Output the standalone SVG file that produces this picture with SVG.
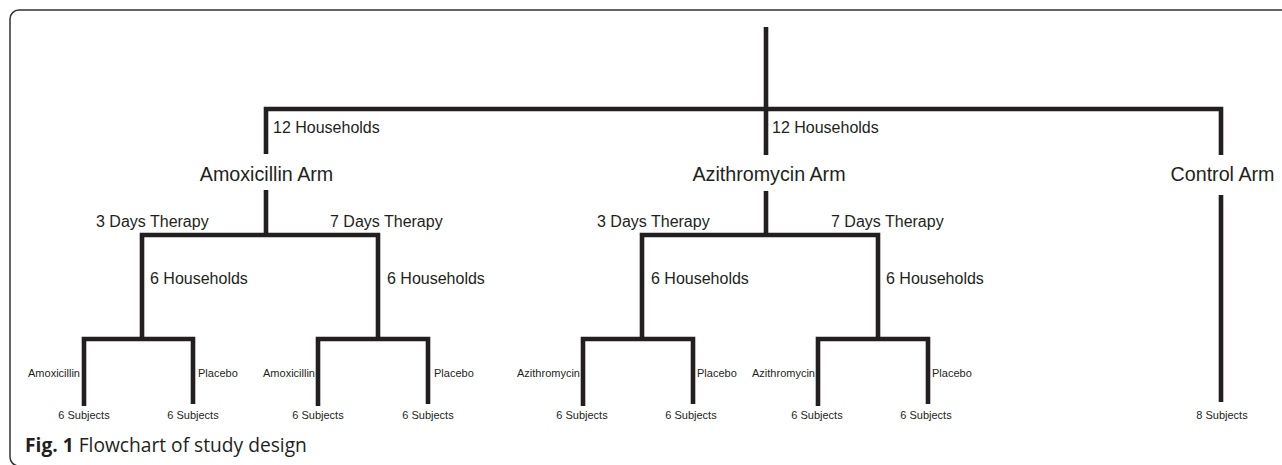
<svg xmlns="http://www.w3.org/2000/svg" width="1282" height="465" viewBox="0 0 1282 465">
<style>
.ln{fill:none;stroke:#231f20;stroke-width:4.6;stroke-linejoin:miter;stroke-linecap:butt}
.t{font-family:"Liberation Sans",Arial,sans-serif;fill:#231f20}
.arm{font-size:19.7px;text-anchor:middle}
.md{font-size:16px}
.sm{font-size:11px}
.c{text-anchor:middle}
.e{text-anchor:end}
.cap{font-family:"Open Sans","Noto Sans",sans-serif;font-size:19.2px;fill:#231f20}
</style>
<rect x="10" y="10" width="1300" height="456" rx="9" fill="#fff" stroke="#333" stroke-width="1.5"/>
<g id="connectors" class="ln">
<path d="M766,27 V155"/>
<path d="M266,154 V109 H1221 V155"/>
<path d="M266,190 V235"/>
<path d="M142,339 V235 H378 V339"/>
<path d="M766,191 V235"/>
<path d="M642,339 V235 H878 V339"/>
<path d="M1221,195 V402"/>
<path d="M84,406 V339 H193 V404"/>
<path d="M318,406 V339 H428 V404"/>
<path d="M583,406 V339 H693 V404"/>
<path d="M818,406 V339 H928 V404"/>
</g>
<g id="amox-arm"><text class="t arm" x="266.5" y="181">Amoxicillin Arm</text></g>
<g id="azi-arm"><text class="t arm" x="769" y="181">Azithromycin Arm</text></g>
<g id="control-arm"><text class="t arm" x="1222.5" y="181">Control Arm</text></g>
<g id="labels-households">
<text class="t md" x="273" y="133">12 Households</text>
<text class="t md" x="772" y="133">12 Households</text>
</g>
<g id="labels-therapy">
<text class="t md" x="96" y="227">3 Days Therapy</text>
<text class="t md" x="330" y="227">7 Days Therapy</text>
<text class="t md" x="597" y="227">3 Days Therapy</text>
<text class="t md" x="831" y="227">7 Days Therapy</text>
</g>
<g id="labels-6households">
<text class="t md" x="150" y="284">6 Households</text>
<text class="t md" x="387" y="284">6 Households</text>
<text class="t md" x="651" y="284">6 Households</text>
<text class="t md" x="886" y="284">6 Households</text>
</g>
<g id="labels-drug">
<text class="t sm e" x="80" y="377">Amoxicillin</text>
<text class="t sm" x="198" y="377">Placebo</text>
<text class="t sm e" x="315" y="377">Amoxicillin</text>
<text class="t sm" x="434" y="377">Placebo</text>
<text class="t sm e" x="580" y="377">Azithromycin</text>
<text class="t sm" x="697" y="377">Placebo</text>
<text class="t sm e" x="815" y="377">Azithromycin</text>
<text class="t sm" x="932" y="377">Placebo</text>
</g>
<g id="subjects">
<text class="t sm c" x="84" y="419">6 Subjects</text>
<text class="t sm c" x="193" y="419">6 Subjects</text>
<text class="t sm c" x="318" y="419">6 Subjects</text>
<text class="t sm c" x="428" y="419">6 Subjects</text>
<text class="t sm c" x="582" y="419">6 Subjects</text>
<text class="t sm c" x="691" y="419">6 Subjects</text>
<text class="t sm c" x="817" y="419">6 Subjects</text>
<text class="t sm c" x="926" y="419">6 Subjects</text>
<text class="t sm c" x="1222" y="419">8 Subjects</text>
</g>
<g id="caption">
<text class="cap" x="25" y="452"><tspan font-weight="bold">Fig. 1</tspan> Flowchart of study design</text>
</g>
</svg>
